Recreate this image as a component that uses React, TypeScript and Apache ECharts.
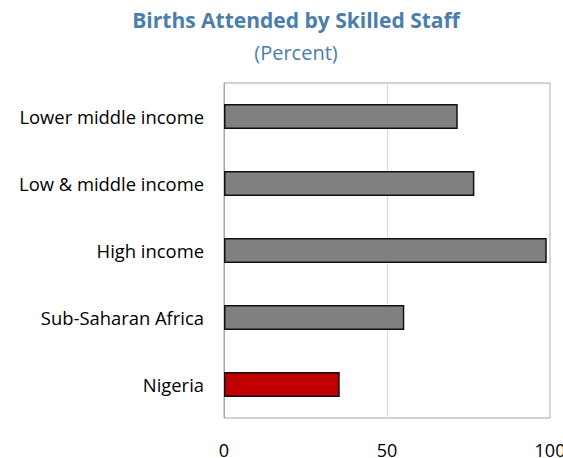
import React, { useEffect, useRef } from "react";
import * as echarts from "echarts";

const categories = [
  "Lower middle income",
  "Low & middle income",
  "High income",
  "Sub-Saharan Africa",
  "Nigeria",
];
const values = [71.7, 76.8, 99.0, 55.3, 35.5];
const highlight = "Nigeria";
const xTicks = [0, 50, 100];

export default function App() {
  const ref = useRef<HTMLDivElement>(null);
  useEffect(() => {
    if (!ref.current) return;
    const chart = echarts.init(ref.current, undefined, { renderer: "svg" });
    const font = "'Open Sans', 'Noto Sans', sans-serif";
    chart.setOption({
      animation: false,
      title: {
        text: "Births Attended by Skilled Staff",
        subtext: "(Percent)",
        left: 291,
        textAlign: "center",
        top: 4,
        itemGap: 12,
        textStyle: { fontFamily: font, fontSize: 21, fontWeight: "bold", color: "#4a7ead" },
        subtextStyle: { fontFamily: font, fontSize: 20, color: "#4a7ead" },
      },
      grid: {
        left: 224,
        right: 13,
        top: 83,
        bottom: 40,
        outerBoundsMode: "none",
        containLabel: false,
        show: true,
        borderColor: "#a6a6a6",
        borderWidth: 1,
        backgroundColor: "#fff",
      },
      xAxis: {
        type: "value",
        min: xTicks[0],
        max: xTicks[xTicks.length - 1],
        interval: 50,
        axisLine: { show: false },
        axisTick: { show: false },
        splitLine: { show: true, lineStyle: { color: "#d9d9d9", width: 1 } },
        axisLabel: { fontFamily: font, fontSize: 18, color: "#000", margin: 23 },
      },
      yAxis: {
        type: "category",
        data: categories,
        inverse: true,
        axisLine: { show: true, lineStyle: { color: "#a6a6a6" } },
        axisTick: { show: false },
        axisLabel: { fontFamily: font, fontSize: 18.4, color: "#000", margin: 20 },
      },
      series: [
        {
          type: "bar",
          barWidth: 25,
          data: categories.map((c, i) => ({
            value: values[i],
            itemStyle: {
              color: c === highlight ? "#c00000" : "#808080",
              borderColor: "#111",
              borderWidth: 1.5,
            },
          })),
        },
      ],
    });
    return () => chart.dispose();
  }, []);
  return (
    <div
      ref={ref}
      style={{ position: "fixed", left: 0, top: 0, width: 563, height: 458, background: "#fff" }}
    />
  );
}
